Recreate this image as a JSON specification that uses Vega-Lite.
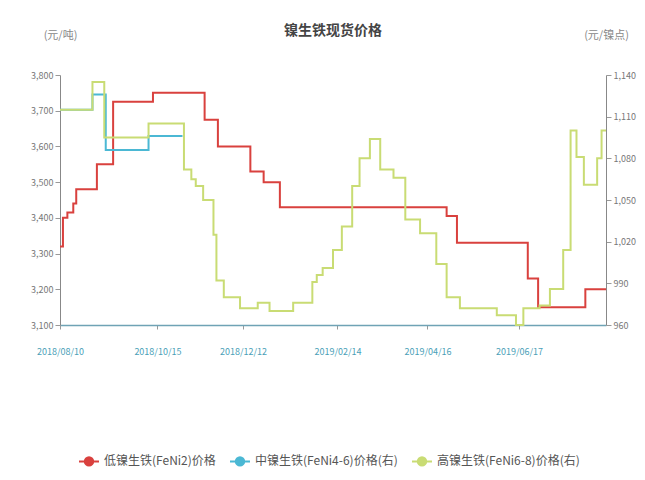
{
  "$schema": "https://vega.github.io/schema/vega-lite/v6.json",
  "width": 546,
  "height": 250,
  "autosize": {"type": "none"},
  "padding": {"left": 60, "top": 75, "right": 39, "bottom": 155},
  "background": "white",
  "title": {"text": "镍生铁现货价格", "anchor": "middle", "offset": -9, "fontSize": 14, "font": "Noto Sans CJK SC", "fontWeight": "bold", "color": "#444"},
  "config": {
    "view": {"stroke": null},
    "font": "Noto Sans CJK SC",
    "axis": {"grid": false, "domainColor": "#888", "tickColor": "#999", "labelFont": "Noto Sans CJK SC", "titleFont": "Noto Sans CJK SC"}
  },
  "data": {
    "values": [
      {"series": "低镍生铁(FeNi2)价格", "date": "2018-08-10", "value": 3320},
      {"series": "低镍生铁(FeNi2)价格", "date": "2018-08-12", "value": 3400},
      {"series": "低镍生铁(FeNi2)价格", "date": "2018-08-15", "value": 3415},
      {"series": "低镍生铁(FeNi2)价格", "date": "2018-08-19", "value": 3440},
      {"series": "低镍生铁(FeNi2)价格", "date": "2018-08-21", "value": 3480},
      {"series": "低镍生铁(FeNi2)价格", "date": "2018-09-04", "value": 3550},
      {"series": "低镍生铁(FeNi2)价格", "date": "2018-09-15", "value": 3725},
      {"series": "低镍生铁(FeNi2)价格", "date": "2018-10-12", "value": 3750},
      {"series": "低镍生铁(FeNi2)价格", "date": "2018-11-16", "value": 3675},
      {"series": "低镍生铁(FeNi2)价格", "date": "2018-11-25", "value": 3600},
      {"series": "低镍生铁(FeNi2)价格", "date": "2018-12-17", "value": 3530},
      {"series": "低镍生铁(FeNi2)价格", "date": "2018-12-26", "value": 3500},
      {"series": "低镍生铁(FeNi2)价格", "date": "2019-01-06", "value": 3430},
      {"series": "低镍生铁(FeNi2)价格", "date": "2019-04-29", "value": 3405},
      {"series": "低镍生铁(FeNi2)价格", "date": "2019-05-06", "value": 3330},
      {"series": "低镍生铁(FeNi2)价格", "date": "2019-06-23", "value": 3230},
      {"series": "低镍生铁(FeNi2)价格", "date": "2019-06-30", "value": 3150},
      {"series": "低镍生铁(FeNi2)价格", "date": "2019-08-01", "value": 3200},
      {"series": "低镍生铁(FeNi2)价格", "date": "2019-08-15", "value": 3200},
      {"series": "中镍生铁(FeNi4-6)价格(右)", "date": "2018-08-10", "value": 1115},
      {"series": "中镍生铁(FeNi4-6)价格(右)", "date": "2018-09-01", "value": 1126},
      {"series": "中镍生铁(FeNi4-6)价格(右)", "date": "2018-09-10", "value": 1086},
      {"series": "中镍生铁(FeNi4-6)价格(右)", "date": "2018-10-09", "value": 1096},
      {"series": "中镍生铁(FeNi4-6)价格(右)", "date": "2018-11-01", "value": 1096},
      {"series": "高镍生铁(FeNi6-8)价格(右)", "date": "2018-08-10", "value": 1115},
      {"series": "高镍生铁(FeNi6-8)价格(右)", "date": "2018-09-01", "value": 1135},
      {"series": "高镍生铁(FeNi6-8)价格(右)", "date": "2018-09-09", "value": 1095},
      {"series": "高镍生铁(FeNi6-8)价格(右)", "date": "2018-10-09", "value": 1105},
      {"series": "高镍生铁(FeNi6-8)价格(右)", "date": "2018-11-02", "value": 1072},
      {"series": "高镍生铁(FeNi6-8)价格(右)", "date": "2018-11-07", "value": 1065},
      {"series": "高镍生铁(FeNi6-8)价格(右)", "date": "2018-11-10", "value": 1060},
      {"series": "高镍生铁(FeNi6-8)价格(右)", "date": "2018-11-15", "value": 1050},
      {"series": "高镍生铁(FeNi6-8)价格(右)", "date": "2018-11-22", "value": 1025},
      {"series": "高镍生铁(FeNi6-8)价格(右)", "date": "2018-11-24", "value": 992},
      {"series": "高镍生铁(FeNi6-8)价格(右)", "date": "2018-11-29", "value": 980},
      {"series": "高镍生铁(FeNi6-8)价格(右)", "date": "2018-12-10", "value": 972},
      {"series": "高镍生铁(FeNi6-8)价格(右)", "date": "2018-12-22", "value": 976},
      {"series": "高镍生铁(FeNi6-8)价格(右)", "date": "2018-12-30", "value": 970},
      {"series": "高镍生铁(FeNi6-8)价格(右)", "date": "2019-01-15", "value": 976},
      {"series": "高镍生铁(FeNi6-8)价格(右)", "date": "2019-01-28", "value": 991},
      {"series": "高镍生铁(FeNi6-8)价格(右)", "date": "2019-01-31", "value": 996},
      {"series": "高镍生铁(FeNi6-8)价格(右)", "date": "2019-02-04", "value": 1001},
      {"series": "高镍生铁(FeNi6-8)价格(右)", "date": "2019-02-11", "value": 1014},
      {"series": "高镍生铁(FeNi6-8)价格(右)", "date": "2019-02-17", "value": 1031},
      {"series": "高镍生铁(FeNi6-8)价格(右)", "date": "2019-02-24", "value": 1060},
      {"series": "高镍生铁(FeNi6-8)价格(右)", "date": "2019-03-01", "value": 1080},
      {"series": "高镍生铁(FeNi6-8)价格(右)", "date": "2019-03-08", "value": 1094},
      {"series": "高镍生铁(FeNi6-8)价格(右)", "date": "2019-03-15", "value": 1072},
      {"series": "高镍生铁(FeNi6-8)价格(右)", "date": "2019-03-24", "value": 1066},
      {"series": "高镍生铁(FeNi6-8)价格(右)", "date": "2019-04-01", "value": 1036},
      {"series": "高镍生铁(FeNi6-8)价格(右)", "date": "2019-04-11", "value": 1026},
      {"series": "高镍生铁(FeNi6-8)价格(右)", "date": "2019-04-22", "value": 1004},
      {"series": "高镍生铁(FeNi6-8)价格(右)", "date": "2019-04-29", "value": 980},
      {"series": "高镍生铁(FeNi6-8)价格(右)", "date": "2019-05-08", "value": 972},
      {"series": "高镍生铁(FeNi6-8)价格(右)", "date": "2019-06-02", "value": 967},
      {"series": "高镍生铁(FeNi6-8)价格(右)", "date": "2019-06-15", "value": 960},
      {"series": "高镍生铁(FeNi6-8)价格(右)", "date": "2019-06-20", "value": 972},
      {"series": "高镍生铁(FeNi6-8)价格(右)", "date": "2019-07-01", "value": 974},
      {"series": "高镍生铁(FeNi6-8)价格(右)", "date": "2019-07-08", "value": 986},
      {"series": "高镍生铁(FeNi6-8)价格(右)", "date": "2019-07-17", "value": 1014},
      {"series": "高镍生铁(FeNi6-8)价格(右)", "date": "2019-07-22", "value": 1100},
      {"series": "高镍生铁(FeNi6-8)价格(右)", "date": "2019-07-26", "value": 1081},
      {"series": "高镍生铁(FeNi6-8)价格(右)", "date": "2019-07-31", "value": 1061},
      {"series": "高镍生铁(FeNi6-8)价格(右)", "date": "2019-08-09", "value": 1080},
      {"series": "高镍生铁(FeNi6-8)价格(右)", "date": "2019-08-12", "value": 1100},
      {"series": "高镍生铁(FeNi6-8)价格(右)", "date": "2019-08-15", "value": 1100}
    ]
  },
  "encoding": {
    "x": {
      "field": "date",
      "type": "temporal",
      "scale": {"type": "utc", "domain": [{"year": 2018, "month": 8, "date": 10, "utc": true}, {"year": 2019, "month": 8, "date": 15, "utc": true}]},
      "axis": {
        "title": null,
        "values": [
          {"year": 2018, "month": 8, "date": 10, "utc": true},
          {"year": 2018, "month": 10, "date": 15, "utc": true},
          {"year": 2018, "month": 12, "date": 12, "utc": true},
          {"year": 2019, "month": 2, "date": 14, "utc": true},
          {"year": 2019, "month": 4, "date": 16, "utc": true},
          {"year": 2019, "month": 6, "date": 17, "utc": true}
        ],
        "format": "%Y/%m/%d",
        "labelColor": "#4a9fb8",
        "labelFontSize": 9,
        "tickSize": 4,
        "labelPadding": 18,
        "labelFlush": false,
        "labelOverlap": false,
        "domainColor": "#6fa3b5",
        "domainWidth": 1.5
      }
    },
    "color": {
      "field": "series",
      "type": "nominal",
      "scale": {
        "domain": ["低镍生铁(FeNi2)价格", "中镍生铁(FeNi4-6)价格(右)", "高镍生铁(FeNi6-8)价格(右)"],
        "range": ["#d9413e", "#4bb8d4", "#c9dc74"]
      },
      "legend": {
        "orient": "none",
        "legendX": 18,
        "legendY": 375,
        "direction": "horizontal",
        "title": null,
        "symbolType": "M-1,0L1,0M0.42,0A0.42,0.42 0 1,1 -0.42,0A0.42,0.42 0 1,1 0.42,0Z",
        "symbolSize": 400,
        "symbolStrokeWidth": 2,
        "labelFontSize": 12,
        "labelColor": "#555",
        "labelLimit": 300,
        "columnPadding": 10,
        "labelFont": "Noto Sans CJK SC",
        "encode": {"symbols": {"update": {"fill": {"scale": "color", "field": "value"}, "fillOpacity": {"value": 1}}}}
      }
    }
  },
  "layer": [
    {
      "transform": [{"filter": "datum.series == '低镍生铁(FeNi2)价格'"}],
      "mark": {"type": "line", "interpolate": "step-after", "strokeWidth": 2},
      "encoding": {
        "y": {
          "field": "value",
          "type": "quantitative",
          "scale": {"domain": [3100, 3800], "zero": false, "nice": false},
          "axis": {
            "values": [3100, 3200, 3300, 3400, 3500, 3600, 3700, 3800],
            "format": ",d",
            "title": "(元/吨)",
            "titleAngle": 0,
            "titleX": 0,
            "titleY": -40,
            "titleAlign": "center",
            "titleBaseline": "middle",
            "titleFontWeight": "normal",
            "titleColor": "#888",
            "titleFontSize": 11,
            "labelFontSize": 9,
            "labelColor": "#777",
            "tickSize": 5
          }
        }
      }
    },
    {
      "transform": [{"filter": "datum.series != '低镍生铁(FeNi2)价格'"}],
      "mark": {"type": "line", "interpolate": "step-after", "strokeWidth": 2},
      "encoding": {
        "y": {
          "field": "value",
          "type": "quantitative",
          "scale": {"domain": [960, 1140], "zero": false, "nice": false},
          "axis": {
            "orient": "right",
            "values": [960, 990, 1020, 1050, 1080, 1110, 1140],
            "format": ",d",
            "title": "(元/镍点)",
            "titleAngle": 0,
            "titleX": 0,
            "titleY": -40,
            "titleAlign": "center",
            "titleBaseline": "middle",
            "titleFontWeight": "normal",
            "titleColor": "#888",
            "titleFontSize": 11,
            "labelFontSize": 9,
            "labelColor": "#777",
            "tickSize": 5
          }
        }
      }
    }
  ],
  "resolve": {"scale": {"y": "independent"}}
}
